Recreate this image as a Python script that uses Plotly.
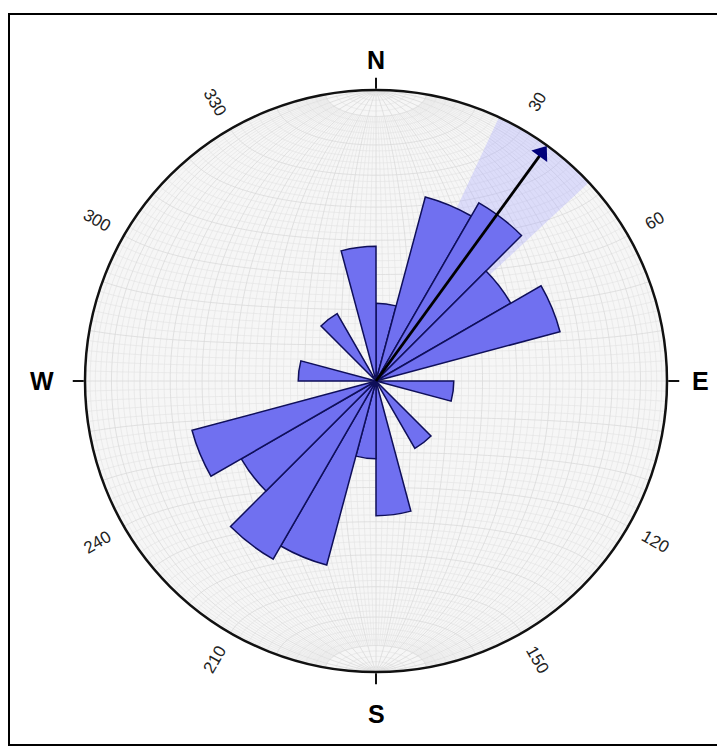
import numpy as np
import plotly.graph_objects as go

# ---- data (axial orientation data, 15 degree bins, counts) ----
bin_start = list(range(0, 360, 15))
counts = [1, 6, 7, 4, 6, 0, 1, 0, 0, 1, 0, 3,
          1, 6, 7, 4, 6, 0, 1, 0, 0, 1, 0, 3]
bin_width = 15
mean_direction = 36
conf_half_width = 11
max_scale = 14  # outer circle corresponds to this count (equal-area)

major_labels = ["N", "E", "S", "W"]
major_angles = [0, 90, 180, 270]
minor_labels = ["30", "60", "120", "150", "210", "240", "300", "330"]
minor_angles = [30, 60, 120, 150, 210, 240, 300, 330]

OFF = 8  # page body margin
W, H = 725 - OFF, 747 - OFF
CX, CY, RPX = 376 - OFF, 381 - OFF, 291

fig = go.Figure()

# ---- equal-area (Schmidt) net background on polar ----
def proj(phi, lam):
    ph = np.radians(phi); la = np.radians(lam)
    x = np.cos(ph) * np.sin(la)
    y = np.sin(ph)
    z = np.clip(np.cos(ph) * np.cos(la), -1, 1)
    a = np.arccos(z)
    r = np.sqrt(2) * np.sin(a / 2)
    az = np.degrees(np.arctan2(x, y))
    return r, az

minor_r, minor_t, major_r, major_t = [], [], [], []
for lam in range(-88, 90, 2):
    lim = 90 if lam % 10 == 0 else 80
    phis = np.linspace(-lim, lim, 121)
    r, t = proj(phis, np.full_like(phis, lam))
    tr, tt = (major_r, major_t) if lam % 10 == 0 else (minor_r, minor_t)
    tr += list(r) + [None]; tt += list(t) + [None]
for phi in range(-88, 90, 2):
    lams = np.linspace(-90, 90, 121)
    r, t = proj(np.full_like(lams, phi), lams)
    tr, tt = (major_r, major_t) if phi % 10 == 0 else (minor_r, minor_t)
    tr += list(r) + [None]; tt += list(t) + [None]

fig.add_trace(go.Scatterpolar(r=minor_r, theta=minor_t, mode="lines",
                              line=dict(color="#e3e3e3", width=0.6),
                              hoverinfo="skip", subplot="polar"))
fig.add_trace(go.Scatterpolar(r=major_r, theta=major_t, mode="lines",
                              line=dict(color="#dadada", width=0.8),
                              hoverinfo="skip", subplot="polar"))

# ---- rose diagram on polar2 ----
rmax = np.sqrt(max_scale)
fig.add_trace(go.Barpolar(r=[rmax], theta=[mean_direction], width=[2 * conf_half_width],
                          marker=dict(color="rgba(165,165,255,0.32)", line=dict(width=0)),
                          hoverinfo="skip", subplot="polar2"))
centers = [b + bin_width / 2 for b in bin_start]
fig.add_trace(go.Barpolar(r=np.sqrt(counts), theta=centers, width=[bin_width] * len(centers),
                          marker=dict(color="rgb(112,112,240)",
                                      line=dict(color="rgb(15,15,90)", width=1.5)),
                          subplot="polar2"))
head_r = rmax * (1 - 9 / RPX)
fig.add_trace(go.Scatterpolar(r=[0, head_r], theta=[mean_direction, mean_direction], mode="lines",
                              line=dict(color="black", width=2.8), hoverinfo="skip",
                              subplot="polar2"))
fig.add_trace(go.Scatterpolar(r=[head_r], theta=[mean_direction], mode="markers",
                              marker=dict(symbol="triangle-up", size=17, angle=mean_direction,
                                          color="#00007a", line=dict(width=0)),
                              hoverinfo="skip", subplot="polar2"))

dom_x = [(CX - RPX) / W, (CX + RPX) / W]
dom_y = [(H - CY - RPX) / H, (H - CY + RPX) / H]

fig.update_layout(
    width=W, height=H, margin=dict(l=0, r=0, t=0, b=0),
    paper_bgcolor="white", showlegend=False,
    polar=dict(domain=dict(x=dom_x, y=dom_y), bgcolor="#f6f6f6",
               radialaxis=dict(visible=False, range=[0, 1]),
               angularaxis=dict(visible=False, rotation=90, direction="clockwise")),
    polar2=dict(domain=dict(x=dom_x, y=dom_y), bgcolor="rgba(0,0,0,0)",
                radialaxis=dict(visible=False, range=[0, rmax]),
                angularaxis=dict(rotation=90, direction="clockwise", showgrid=False,
                                 showline=True, linecolor="#111", linewidth=2.5,
                                 ticks="outside", tickvals=major_angles, ticklen=11,
                                 tickwidth=1.5, tickcolor="#111", showticklabels=False)),
    font=dict(family="Arial, Liberation Sans, sans-serif"),
)

def to_paper(theta, r):
    th = np.radians(theta)
    x = CX + r * np.sin(th)
    y = CY - r * np.cos(th)
    return x / W, (H - y) / H

major_r = [321, 324, 333, 334]
for lab, ang, rr in zip(major_labels, major_angles, major_r):
    x, y = to_paper(ang, rr)
    fig.add_annotation(x=x, y=y, xref="paper", yref="paper", text="<b>%s</b>" % lab,
                       showarrow=False, font=dict(size=25, color="black"),
                       xanchor="center", yanchor="middle")
for lab, ang in zip(minor_labels, minor_angles):
    x, y = to_paper(ang, 322)
    ta = ((ang - 90 + 90) % 180) - 90
    fig.add_annotation(x=x, y=y, xref="paper", yref="paper", text=lab, textangle=ta,
                       showarrow=False, font=dict(size=17, color="#222"),
                       xanchor="center", yanchor="middle")

fig.add_shape(type="rect", xref="paper", yref="paper",
              x0=1 / W, x1=713 / W, y0=2 / H, y1=(H - 6) / H,
              line=dict(color="black", width=2))

fig.write_html("out.html")
